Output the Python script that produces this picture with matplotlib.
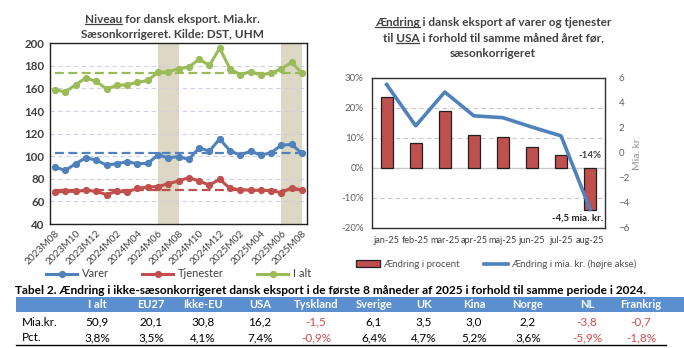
import matplotlib
matplotlib.use('Agg')
import matplotlib.pyplot as plt
from matplotlib.patches import Rectangle, Patch
from matplotlib.lines import Line2D

plt.rcParams['font.family'] = ['Lato', 'DejaVu Sans']

# monthly export level, bn DKK, seasonally adjusted
months = ['2023M08', '2023M09', '2023M10', '2023M11', '2023M12', '2024M01', '2024M02',
          '2024M03', '2024M04', '2024M05', '2024M06', '2024M07', '2024M08', '2024M09',
          '2024M10', '2024M11', '2024M12', '2025M01', '2025M02', '2025M03', '2025M04',
          '2025M05', '2025M06', '2025M07', '2025M08']
varer = [90.4, 87.5, 93.4, 98.7, 96.6, 92.2, 93.4, 95.2, 93.4, 93.7, 101.0, 98.7, 99.6,
         97.2, 107.5, 104.5, 115.4, 104.8, 101.0, 104.5, 101.0, 103.1, 109.8, 110.4, 102.5]
tjenester = [68.4, 69.0, 69.0, 69.9, 69.0, 66.1, 69.0, 68.4, 71.6, 72.8, 73.1, 75.8, 78.1,
             81.1, 78.1, 74.5, 79.6, 71.6, 70.5, 69.9, 69.9, 69.6, 67.8, 72.2, 70.1]
i_alt = [158.9, 156.8, 163.3, 169.2, 166.2, 159.5, 162.6, 163.3, 165.3, 167.0, 174.1, 174.7,
         177.4, 178.9, 185.9, 180.3, 195.6, 177.4, 172.1, 174.7, 172.1, 173.6, 177.4, 182.9, 173.6]
avg_varer, avg_tjenester, avg_i_alt = 102.7, 70.0, 173.3
shaded = [('2024M06', '2024M08'), ('2025M06', '2025M08')]

# change in exports to the USA vs same month previous year
usa_months = ['jan-25', 'feb-25', 'mar-25', 'apr-25', 'maj-25', 'jun-25', 'jul-25', 'aug-25']
usa_pct = [23.5, 8.2, 19.0, 10.9, 10.1, 7.0, 4.3, -14.0]
usa_bn = [5.45, 2.15, 4.85, 2.95, 2.8, 2.05, 1.35, -4.5]

# table 2
tbl_cols = ['I alt', 'EU27', 'Ikke-EU', 'USA', 'Tyskland', 'Sverige', 'UK', 'Kina', 'Norge', 'NL', 'Frankrig']
tbl_bn = [50.9, 20.1, 30.8, 16.2, -1.5, 6.1, 3.5, 3.0, 2.2, -3.8, -0.7]
tbl_pct = [3.8, 3.5, 4.1, 7.4, -0.9, 6.4, 4.7, 5.2, 3.6, -5.9, -1.8]

BLUE = '#4f81bd'
RED = '#c0504d'
GREEN = '#9bbb59'
BAND = '#dcd8c4'
TXT = '#404040'
NEG = '#d04a4a'

fig = plt.figure(figsize=(6.84, 3.48), dpi=100)


def underline(t, word):
    # draw a line under the first occurrence of word inside text t
    fig.canvas.draw()
    r = fig.canvas.get_renderer()
    s = t.get_text()
    i = s.index(word)
    full = t.get_window_extent(r)
    tmp = fig.text(0, 0, s[:i], fontsize=t.get_fontsize(), fontweight=t.get_fontweight())
    w0 = tmp.get_window_extent(r).width if i else 0
    tmp.set_text(s[:i + len(word)])
    w1 = tmp.get_window_extent(r).width
    tmp.remove()
    W, H = fig.bbox.width, fig.bbox.height
    y = (full.y0 + 1) / H
    fig.add_artist(Line2D([(full.x0 + w0) / W, (full.x0 + w1) / W], [y, y],
                          transform=fig.transFigure, color=t.get_color(), lw=0.9))


# ---------- left chart ----------
ax = fig.add_axes([0.073, 0.356, 0.376, 0.520])
x = list(range(len(months)))
for a, b in shaded:
    ax.axvspan(months.index(a), months.index(b), color=BAND, lw=0, zorder=0)
ax.hlines(avg_varer, 0, len(months) - 1, colors=BLUE, linestyles=(0, (4, 2)), lw=1.6, zorder=2)
ax.hlines(avg_tjenester, 0, len(months) - 1, colors=RED, linestyles=(0, (4, 2)), lw=1.6, zorder=2)
ax.hlines(avg_i_alt, 0, len(months) - 1, colors=GREEN, linestyles=(0, (4, 2)), lw=1.6, zorder=2)
ax.plot(x, varer, color=BLUE, marker='o', ms=4.2, lw=2.2, label='Varer', zorder=3)
ax.plot(x, tjenester, color=RED, marker='o', ms=4.2, lw=2.2, label='Tjenester', zorder=3)
ax.plot(x, i_alt, color=GREEN, marker='o', ms=4.2, lw=2.2, label='I alt', zorder=3)
ax.set_xlim(-0.5, len(months) - 0.5)
ax.set_ylim(40, 200)
ax.set_yticks(range(40, 201, 20))
ax.set_xticks(x[::2])
ax.set_xticklabels(months[::2], rotation=45, ha='right', rotation_mode='anchor', fontsize=7.3, color=TXT)
ax.tick_params(axis='y', labelsize=8.3, colors=TXT, length=0, pad=4)
ax.tick_params(axis='x', length=0, pad=3)
for lbl in ax.get_yticklabels():
    lbl.set_fontweight('bold')
ax.yaxis.grid(True, color='#d0d0e0', ls=(0, (4, 3)), lw=0.8)
ax.set_axisbelow(True)
for s in ax.spines.values():
    s.set_color('#202020')
    s.set_linewidth(1.0)
ax.legend(loc='upper center', bbox_to_anchor=(0.5, -0.19), ncol=3, frameon=False,
          fontsize=8, handlelength=2.8, columnspacing=3.0, handletextpad=0.4, labelcolor=TXT)

t_left = fig.text(0.252, 0.945, 'Niveau for dansk eksport. Mia.kr.', ha='center', va='center',
                  fontsize=8.5, fontweight='bold', color=TXT)
fig.text(0.252, 0.900, 'Sæsonkorrigeret. Kilde: DST, UHM', ha='center', va='center',
         fontsize=8.5, fontweight='bold', color=TXT)

# ---------- right chart ----------
ax2 = fig.add_axes([0.544, 0.345, 0.340, 0.432])
xr = list(range(len(usa_months)))
ax2.bar(xr, usa_pct, width=0.42, color=RED, edgecolor='#202020', lw=0.9, zorder=2)
ax2.axhline(0, color='#c8c8c8', lw=0.9, zorder=1)
ax2.set_ylim(-20, 30)
ax2.set_yticks(range(-20, 31, 10))
ax2.set_yticklabels([f'{v}%' for v in range(-20, 31, 10)])
ax2.set_xlim(-0.5, len(usa_months) - 0.5)
ax2.set_xticks(xr)
ax2.set_xticklabels(usa_months, fontsize=6.6, color=TXT)
ax2.tick_params(axis='y', labelsize=7, colors='#606060', length=0, pad=6)
ax2.tick_params(axis='x', length=0, pad=6)
ax2.yaxis.grid(True, color='#c8c8c8', ls=(0, (4, 3)), lw=0.8)
ax2.set_axisbelow(True)
for s in ax2.spines.values():
    s.set_color('#303030')
    s.set_linewidth(1.0)

ax3 = ax2.twinx()
ax3.plot(xr, usa_bn, color=BLUE, lw=2.6, zorder=3)
ax3.set_ylim(-6, 6)
ax3.set_yticks(range(-6, 7, 2))
ax3.tick_params(axis='y', labelsize=7, colors='#606060', length=0, pad=10)
ax3.set_ylabel('Mia. kr.', fontsize=7.5, color='#909090', labelpad=2)
for s in ax3.spines.values():
    s.set_visible(False)

n = len(usa_months) - 1
ax2.text(n, 2.5, f'{usa_pct[n]:.0f}%', ha='center', va='bottom', fontsize=7,
         fontweight='bold', color=TXT)
ax3.text(n + 0.45, -5.2, f'{usa_bn[n]:.1f}'.replace('.', ',') + ' mia. kr.', ha='right',
         va='center', fontsize=7, fontweight='bold', color='#202020')

t_r1 = fig.text(0.721, 0.935, 'Ændring i dansk eksport af varer og tjenester', ha='center',
                va='center', fontsize=8.5, fontweight='bold', color=TXT)
t_r2 = fig.text(0.721, 0.890, 'til USA i forhold til samme måned året før,', ha='center',
                va='center', fontsize=8.5, fontweight='bold', color=TXT)
fig.text(0.721, 0.845, 'sæsonkorrigeret', ha='center', va='center', fontsize=8.5,
         fontweight='bold', color=TXT)

handles = [Patch(facecolor=RED, edgecolor='#202020', lw=0.9),
           Line2D([], [], color=BLUE, lw=2.6)]
fig.legend(handles, ['Ændring i procent', 'Ændring i mia. kr. (højre akse)'],
           loc='center', bbox_to_anchor=(0.725, 0.24), ncol=2, frameon=False, fontsize=7,
           handlelength=2.5, columnspacing=2.5, handletextpad=0.3, labelcolor='#505050')

# ---------- table ----------
fig.text(15 / 684, 1 - 290 / 348, 'Tabel 2. Ændring i ikke-sæsonkorrigeret dansk eksport i de første 8 måneder '
         'af 2025 i forhold til samme periode i 2024.', ha='left', va='center', fontsize=8.6,
         fontweight='bold', color='black')
fig.add_artist(Rectangle((16 / 684, 1 - 312 / 348), (684 - 16) / 684, 15 / 348,
                         transform=fig.transFigure, facecolor='#5b8fd0', lw=0))
fig.add_artist(Line2D([16 / 684, 666 / 684], [1 - 345 / 348] * 2, transform=fig.transFigure,
                      color='black', lw=1.0))
col_x = [97, 151, 203, 260, 316, 374, 424, 474, 528, 587, 641]
y_head, y_bn, y_pct = 1 - 305 / 348, 1 - 322 / 348, 1 - 337.5 / 348
fig.text(22 / 684, y_bn, 'Mia.kr.', ha='left', va='center', fontsize=8.5, color='black')
fig.text(22 / 684, y_pct, 'Pct.', ha='left', va='center', fontsize=8.5, color='black')
for cx, name, vb, vp in zip(col_x, tbl_cols, tbl_bn, tbl_pct):
    fig.text(cx / 684, y_head, name, ha='center', va='center', fontsize=8, fontweight='bold',
             color='white')
    fig.text(cx / 684, y_bn, f'{vb:.1f}'.replace('.', ','), ha='center', va='center',
             fontsize=8.5, color=NEG if vb < 0 else 'black')
    fig.text(cx / 684, y_pct, f'{vp:.1f}%'.replace('.', ','), ha='center', va='center',
             fontsize=8.5, color=NEG if vp < 0 else 'black')

underline(t_left, 'Niveau')
underline(t_r1, 'Ændring')
underline(t_r2, 'USA')

fig.savefig('out.png', dpi=100)
